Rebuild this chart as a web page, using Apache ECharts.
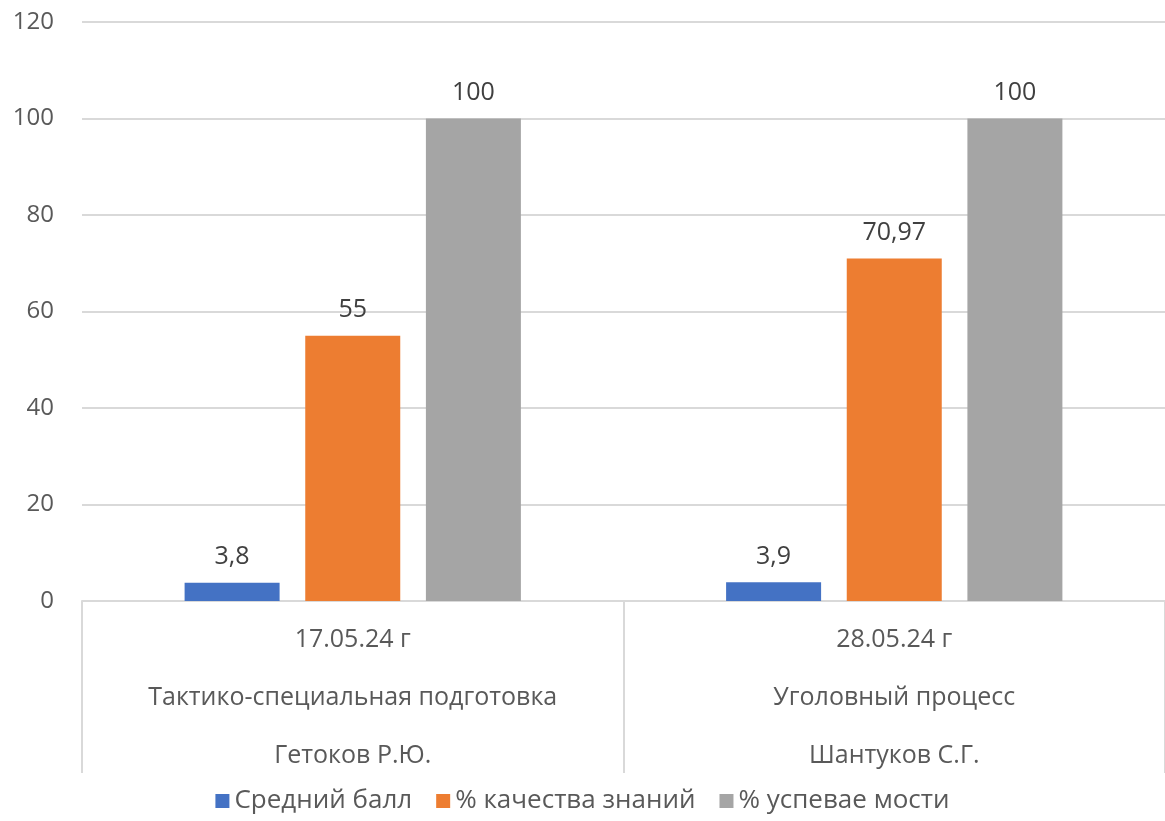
<!DOCTYPE html>
<html>
<head>
<meta charset="utf-8">
<script src="https://cdn.jsdelivr.net/npm/echarts@6/dist/echarts.min.js"></script>
<style>
    html, body { margin: 0; padding: 0; background: #fff; }
    #chart { width: 1165px; height: 821px; }
</style>
</head>
<body>
<div id="chart"></div>
<script>
var categories = [
    '17.05.24 г\nТактико-специальная подготовка\nГетоков Р.Ю.',
    '28.05.24 г\nУголовный процесс\nШантуков С.Г.'
];
var seriesNames = ['Средний балл', '% качества знаний', '% успевае мости'];
var avgScore = [3.8, 3.9];
var qualityPct = [55, 70.97];
var successPct = [100, 100];
var yTicks = { min: 0, max: 120, interval: 20 };

var font = '"Open Sans", "Noto Sans", sans-serif';
var colors = ['#4472c4', '#ed7d31', '#a5a5a5'];

var chart = echarts.init(document.getElementById('chart'));

// запятая вместо точки, как в оригинале
function fmt(p) {
    return String(p.value).replace('.', ',');
}

function makeSeries(name, data) {
    return {
        name: name,
        type: 'bar',
        barWidth: 95,
        barGap: '27%',
        data: data,
        label: {
            show: true,
            position: 'top',
            distance: 13,
            formatter: fmt,
            color: '#404040',
            fontSize: 25,
            fontFamily: font
        }
    };
}

var option = {
    animation: false,
    color: colors,
    textStyle: { fontFamily: font },
    grid: {
        left: 82,
        right: 0,
        top: 22,
        bottom: 220
    },
    legend: {
        bottom: 2,
        left: 'center',
        itemWidth: 14,
        itemHeight: 14,
        itemGap: 24,
        icon: 'rect',
        textStyle: { color: '#595959', fontSize: 26, fontFamily: font },
        data: seriesNames
    },
    xAxis: {
        type: 'category',
        data: categories,
        axisLine: { lineStyle: { color: '#d9d9d9', width: 2 } },
        axisTick: {
            show: true,
            length: 172,
            lineStyle: { color: '#d9d9d9', width: 2 }
        },
        axisLabel: {
            color: '#595959',
            fontSize: 25,
            fontFamily: font,
            lineHeight: 58,
            margin: 10
        }
    },
    yAxis: {
        type: 'value',
        min: yTicks.min,
        max: yTicks.max,
        interval: yTicks.interval,
        axisLine: { show: false },
        axisTick: { show: false },
        axisLabel: {
            color: '#595959',
            fontSize: 24,
            fontFamily: font,
            margin: 28
        },
        splitLine: { lineStyle: { color: '#d9d9d9', width: 2 } }
    },
    series: [
        makeSeries(seriesNames[0], avgScore),
        makeSeries(seriesNames[1], qualityPct),
        makeSeries(seriesNames[2], successPct)
    ]
};

chart.setOption(option);
</script>
</body>
</html>
